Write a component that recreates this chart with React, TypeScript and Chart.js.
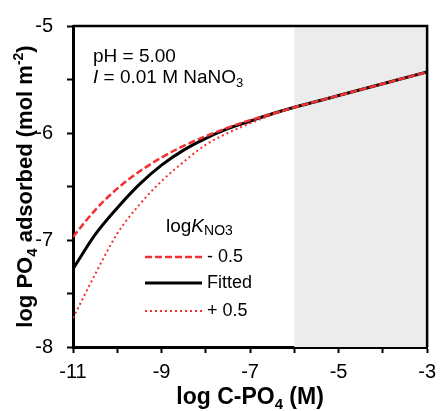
import React, { useEffect, useRef } from "react";
import { Chart, registerables } from "chart.js";

Chart.register(...registerables);

const xValues = [-11, -10.5, -10, -9.5, -9, -8.5, -8, -7.5, -7, -6.5, -6, -5, -4, -3];
const fittedY = [-7.27, -6.95, -6.7, -6.48, -6.3, -6.16, -6.05, -5.96, -5.89, -5.82, -5.76, -5.65, -5.54, -5.43];
const minusY = [-6.97, -6.72, -6.52, -6.36, -6.23, -6.12, -6.03, -5.95, -5.88, -5.82, -5.76, -5.65, -5.54, -5.43];
const plusY = [-7.73, -7.32, -6.94, -6.67, -6.45, -6.27, -6.11, -6.0, -5.91, -5.83, -5.76, -5.65, -5.54, -5.43];
const xLabels = [-11, -9, -7, -5, -3];
const yLabels = [-8, -7, -6, -5];
const shadeFrom = -6;
const legendLabels = ["- 0.5", "Fitted", "+ 0.5"];

const FONT = '"Liberation Sans", Arial, sans-serif';
const RED = "#f23030";

type Seg = { t: string; f: string; dy?: number };

function drawRich(ctx: CanvasRenderingContext2D, x: number, y: number, segs: Seg[], align: "left" | "center" = "left") {
  let total = 0;
  for (const s of segs) {
    ctx.font = s.f;
    total += ctx.measureText(s.t).width;
  }
  let cx = align === "center" ? x - total / 2 : x;
  ctx.textBaseline = "alphabetic";
  ctx.textAlign = "left";
  for (const s of segs) {
    ctx.font = s.f;
    ctx.fillText(s.t, cx, y + (s.dy || 0));
    cx += ctx.measureText(s.t).width;
  }
}

const pts = (ys: number[]) => xValues.map((x, i) => ({ x, y: ys[i] }));

export default function App() {
  const ref = useRef<HTMLCanvasElement>(null);
  useEffect(() => {
    const canvas = ref.current!;
    const decor = {
      id: "decor",
      beforeDatasetsDraw(chart: any) {
        const { ctx, chartArea, scales } = chart;
        const x0 = scales.x.getPixelForValue(shadeFrom);
        ctx.save();
        ctx.fillStyle = "#ececec";
        ctx.fillRect(x0, chartArea.top, chartArea.right - x0, chartArea.bottom - chartArea.top);
        ctx.restore();
      },
      afterDraw(chart: any) {
        const { ctx, chartArea } = chart;
        ctx.save();
        ctx.strokeStyle = "#000";
        ctx.lineWidth = 2.5;
        ctx.beginPath();
        ctx.moveTo(chartArea.left, chartArea.top);
        ctx.lineTo(chartArea.right, chartArea.top);
        ctx.lineTo(chartArea.right, chartArea.bottom);
        ctx.stroke();

        ctx.fillStyle = "#000";
        // annotation
        drawRich(ctx, 93, 62, [{ t: "pH = 5.00", f: `19px ${FONT}` }]);
        drawRich(ctx, 93, 83, [
          { t: "I", f: `italic 19px ${FONT}` },
          { t: " = 0.01 M NaNO", f: `19px ${FONT}` },
          { t: "3", f: `13px ${FONT}`, dy: 4 },
        ]);
        // legend title
        drawRich(ctx, 166, 232, [
          { t: "log", f: `19px ${FONT}` },
          { t: "K", f: `italic 19px ${FONT}` },
          { t: "NO3", f: `14px ${FONT}`, dy: 3 },
        ]);
        // legend rows
        const rows = [
          { y: 257, color: RED, dash: [7, 3], w: 2.5 },
          { y: 283, color: "#000", dash: [], w: 3 },
          { y: 311, color: RED, dash: [2, 3], w: 2 },
        ];
        rows.forEach((r, i) => {
          ctx.beginPath();
          ctx.strokeStyle = r.color;
          ctx.lineWidth = r.w;
          ctx.setLineDash(r.dash);
          ctx.moveTo(145, r.y);
          ctx.lineTo(202, r.y);
          ctx.stroke();
          ctx.setLineDash([]);
          ctx.fillStyle = "#000";
          ctx.font = `18px ${FONT}`;
          ctx.textBaseline = "middle";
          ctx.textAlign = "left";
          ctx.fillText(legendLabels[i], 207, r.y);
        });
        // axis titles
        ctx.fillStyle = "#000";
        drawRich(ctx, (chartArea.left + chartArea.right) / 2, 404, [
          { t: "log C-PO", f: `bold 23px ${FONT}` },
          { t: "4", f: `bold 15px ${FONT}`, dy: 5 },
          { t: " (M)", f: `bold 23px ${FONT}` },
        ], "center");
        ctx.save();
        ctx.translate(31.5, (chartArea.top + chartArea.bottom) / 2);
        ctx.rotate(-Math.PI / 2);
        drawRich(ctx, 0, 0, [
          { t: "log PO", f: `bold 22px ${FONT}` },
          { t: "4", f: `bold 15px ${FONT}`, dy: 5 },
          { t: " adsorbed (mol m", f: `bold 22px ${FONT}` },
          { t: "-2", f: `bold 14px ${FONT}`, dy: -9 },
          { t: ")", f: `bold 22px ${FONT}` },
        ], "center");
        ctx.restore();
        ctx.restore();
      },
    };

    const chart = new Chart(canvas, {
      type: "line",
      data: {
        datasets: [
          { data: pts(plusY), borderColor: RED, borderWidth: 2, borderDash: [2, 3], pointRadius: 0, order: 0, cubicInterpolationMode: "monotone" },
          { data: pts(minusY), borderColor: RED, borderWidth: 2.5, borderDash: [7, 3], pointRadius: 0, order: 1, cubicInterpolationMode: "monotone" },
          { data: pts(fittedY), borderColor: "#000", borderWidth: 3, pointRadius: 0, order: 2, cubicInterpolationMode: "monotone" },
        ],
      },
      options: {
        animation: false,
        responsive: false,
        maintainAspectRatio: false,
        layout: { padding: { left: 0, top: 20, right: 10, bottom: 0 } },
        plugins: { legend: { display: false }, tooltip: { enabled: false } },
        scales: {
          x: {
            type: "linear",
            min: -11,
            max: -3,
            afterFit: (s: any) => { s.height = 64; },
            ticks: {
              stepSize: 1,
              autoSkip: false,
              maxRotation: 0,
              padding: 7,
              color: "#000",
              font: { family: FONT, size: 20 },
              callback: (v: any) => (xLabels.includes(Number(v)) ? String(v) : ""),
            },
            grid: { drawOnChartArea: false, tickLength: 6, tickWidth: 2, color: "#000" },
            border: { color: "#000", width: 3 },
          },
          y: {
            min: -8,
            max: -5,
            afterFit: (s: any) => { s.width = 73; },
            ticks: {
              stepSize: 0.5,
              autoSkip: false,
              padding: 14,
              color: "#000",
              font: { family: FONT, size: 20 },
              callback: (v: any) => (yLabels.includes(Number(v)) ? String(v) : ""),
            },
            grid: { drawOnChartArea: false, tickLength: 6, tickWidth: 2, color: "#000" },
            border: { color: "#000", width: 3 },
          },
        },
      },
      plugins: [decor],
    } as any);
    return () => chart.destroy();
  }, []);
  return (
    <div style={{ position: "fixed", left: 0, top: 0, width: 443, height: 411, background: "#fff" }}>
      <canvas ref={ref} width={443} height={411} style={{ width: 443, height: 411, display: "block" }} />
    </div>
  );
}
